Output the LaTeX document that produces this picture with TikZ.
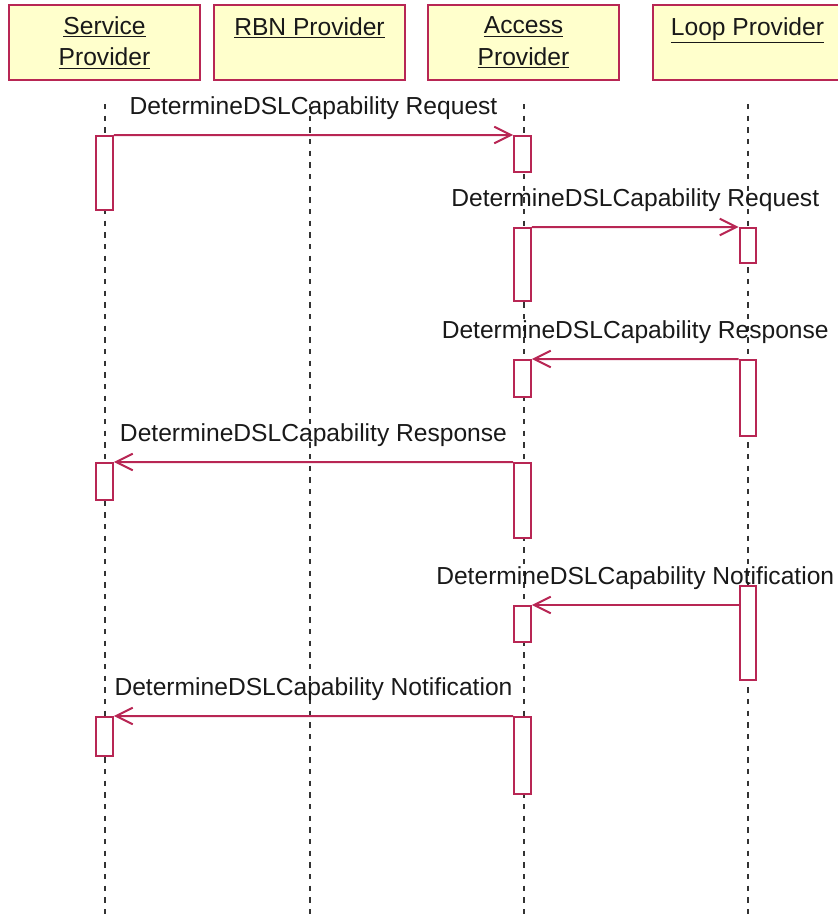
\documentclass[tikz,border=0pt]{standalone}
\usepackage{fontspec}
\setmainfont{Liberation Sans}
\usetikzlibrary{arrows.meta,calc}
\definecolor{umlred}{RGB}{184,38,84}
\definecolor{umlfill}{RGB}{255,255,204}
\tikzset{
  head/.style={draw=umlred, fill=umlfill, line width=0.06cm, minimum width=5.7cm,
    minimum height=2.25cm, align=center, inner sep=0pt, text=black!90,
    font=\fontsize{21}{27}\selectfont},
  life/.style={line width=0.06cm, black!80, dash pattern=on 0.16cm off 0.19cm},
  act/.style={draw=umlred, fill=white, line width=0.06cm, minimum width=0.5cm, inner sep=0pt},
  msg/.style={draw=umlred, line width=0.06cm, -{Straight Barb[length=0.5cm,width=0.5cm]}},
  msgtext/.style={font=\fontsize{21}{25}\selectfont, text=black!90, yshift=0.8cm}
}
\begin{document}
\begin{tikzpicture}[x=0.03cm,y=-0.03cm]
    \useasboundingbox (0,0) rectangle (838,915);

    % heads
    \node[head] (sp) at (104.5,42.5) {\underline{Service}\\\underline{Provider}};
    \node[head] (rbn) at (309.5,42.5) {\underline{RBN Provider}\\\mbox{}};
    \node[head] (ap) at (523.5,42.5) {\underline{Access}\\\underline{Provider}};
    \node[head] (lp) at (747.5,42.5) {\underline{Loop Provider}\\\mbox{}};

    % lifelines
    \draw[life] ($(sp.south)+(0,23)$) -- (sp.south |- 0,915);
    \draw[life] ($(rbn.south)+(0,23)$) -- (rbn.south |- 0,915);
    \draw[life] ($(ap.south)+(0,23)$) -- (ap.south |- 0,915);
    \draw[life] ($(lp.south)+(0,23)$) -- (lp.south |- 0,915);

    % activations
    \node[act, minimum height=2.22cm] (sa1) at (104.5,173) {};
    \node[act, minimum height=1.08cm] (aa1) at (522.5,154) {};
    \node[act, minimum height=2.19cm] (aa2) at (522.5,264.5) {};
    \node[act, minimum height=1.05cm] (la1) at (748,245.5) {};
    \node[act, minimum height=1.11cm] (aa3) at (522.5,378.5) {};
    \node[act, minimum height=2.28cm] (la2) at (748,398) {};
    \node[act, minimum height=1.11cm] (sa2) at (104.5,481.5) {};
    \node[act, minimum height=2.25cm] (aa4) at (522.5,500.5) {};
    \node[act, minimum height=2.82cm] (la3) at (748,633) {};
    \node[act, minimum height=1.08cm] (aa5) at (522.5,624) {};
    \node[act, minimum height=1.17cm] (sa3) at (104.5,736.5) {};
    \node[act, minimum height=2.31cm] (aa6) at (522.5,755.5) {};

    % messages
    \draw[msg] (sa1.north east) -- (aa1.north west)
      node[msgtext, midway] (m1) {DetermineDSLCapability Request};
    \draw[msg] (aa2.north east) -- (la1.north west)
      node[msgtext, midway] (m2) {DetermineDSLCapability Request};
    \draw[msg] (la2.north west) -- (aa3.north east)
      node[msgtext, midway] (m3) {DetermineDSLCapability Response};
    \draw[msg] (aa4.north west) -- (sa2.north east)
      node[msgtext, midway] (m4) {DetermineDSLCapability Response};
    \draw[msg] (la3.west |- aa5.north) -- (aa5.north east)
      node[msgtext, midway] (m5) {DetermineDSLCapability Notification};
    \draw[msg] (aa6.north west) -- (sa3.north east)
      node[msgtext, midway] (m6) {DetermineDSLCapability Notification};
\end{tikzpicture}
\end{document}
